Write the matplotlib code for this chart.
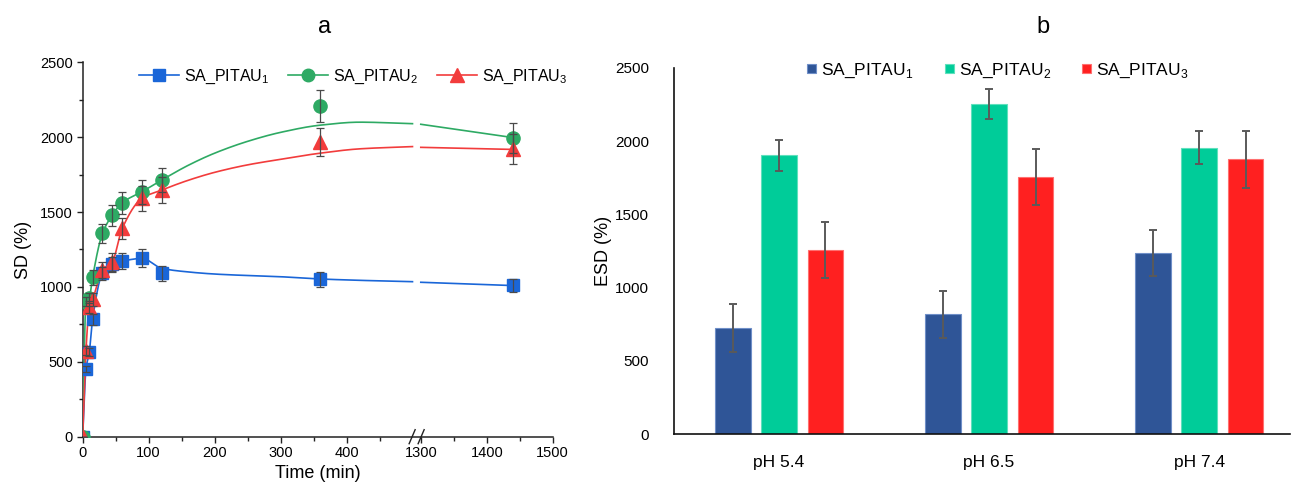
import numpy as np
import matplotlib
matplotlib.use("Agg")
import matplotlib.pyplot as plt
from matplotlib.lines import Line2D
from matplotlib.ticker import FixedLocator, FuncFormatter

plt.rcParams['font.family'] = ['Liberation Sans', 'DejaVu Sans']
plt.rcParams['mathtext.fontset'] = 'custom'
plt.rcParams['mathtext.rm'] = 'Liberation Sans'

# ---------------- data: panel a ----------------
time = [0, 5, 10, 15, 30, 45, 60, 90, 120, 360, 1440]
sd_1 = [0, 452, 565, 784, 1091, 1150, 1172, 1190, 1091, 1051, 1010]
sd_1_err = [0, 20, 25, 35, 45, 50, 55, 60, 50, 50, 45]
sd_2 = [0, 900, 925, 1065, 1358, 1480, 1562, 1636, 1716, 2207, 1995]
sd_2_err = [0, 30, 35, 50, 65, 70, 75, 80, 80, 108, 100]
sd_3 = [0, 575, 868, 917, 1113, 1169, 1391, 1592, 1647, 1968, 1922]
sd_3_err = [0, 30, 40, 45, 55, 60, 70, 85, 85, 95, 100]

# fitted curves (before / after the axis break)
fit_t_a = [0, 5, 10, 15, 30, 45, 60, 90, 120, 160, 200, 250, 300, 360, 420, 500]
fit_t_b = [1300, 1440]
fit_1_a = [0, 452, 565, 784, 1091, 1150, 1172, 1190, 1124, 1100, 1086, 1076, 1068, 1053, 1044, 1035]
fit_1_b = [1031, 1009]
fit_2_a = [0, 900, 925, 1065, 1358, 1480, 1562, 1636, 1714, 1812, 1893, 1972, 2032, 2080, 2100, 2090]
fit_2_b = [2086, 1997]
fit_3_a = [0, 575, 868, 917, 1113, 1169, 1391, 1592, 1647, 1712, 1765, 1815, 1852, 1893, 1922, 1937]
fit_3_b = [1932, 1918]

# ---------------- data: panel b ----------------
ph_labels = ['pH 5.4', 'pH 6.5', 'pH 7.4']
esd_1 = [727, 818, 1238]
esd_1_err = [163, 161, 155]
esd_2 = [1904, 2252, 1954]
esd_2_err = [105, 104, 114]
esd_3 = [1254, 1756, 1875]
esd_3_err = [191, 189, 193]

series_names = [r'SA_PITAU$_\mathregular{1}$', r'SA_PITAU$_\mathregular{2}$', r'SA_PITAU$_\mathregular{3}$']
line_colors = ['#1a66d8', '#2eaa64', '#f23c3c']
bar_colors = ['#2f5597', '#00cc99', '#ff2020']
bar_edges = ['#6f8fc8', '#5fe0bd', '#ff7070']
markers = ['s', 'o', '^']
msizes = [8.5, 9.5, 10]

# broken x axis
BRK_LO, BRK_HI, GAP = 500.0, 1300.0, 12.6


def fwd(x):
    x = np.asarray(x, float)
    return np.where(x <= BRK_LO, x,
                    np.where(x >= BRK_HI, x - (BRK_HI - BRK_LO) + GAP,
                             BRK_LO + (x - BRK_LO) * GAP / (BRK_HI - BRK_LO)))


def inv(y):
    y = np.asarray(y, float)
    return np.where(y <= BRK_LO, y,
                    np.where(y >= BRK_LO + GAP, y + (BRK_HI - BRK_LO) - GAP,
                             BRK_LO + (y - BRK_LO) * (BRK_HI - BRK_LO) / GAP))


def pchip(x, y, xn):
    x = np.asarray(x, float)
    y = np.asarray(y, float)
    h = np.diff(x)
    d = np.diff(y) / h
    n = len(x)
    m = np.zeros(n)
    m[0], m[-1] = d[0], d[-1]
    for k in range(1, n - 1):
        if d[k - 1] * d[k] > 0:
            w1 = 2 * h[k] + h[k - 1]
            w2 = h[k] + 2 * h[k - 1]
            m[k] = (w1 + w2) / (w1 / d[k - 1] + w2 / d[k])
    idx = np.clip(np.searchsorted(x, xn) - 1, 0, n - 2)
    t = (xn - x[idx]) / h[idx]
    h00 = 2 * t**3 - 3 * t**2 + 1
    h10 = t**3 - 2 * t**2 + t
    h01 = -2 * t**3 + 3 * t**2
    h11 = t**3 - t**2
    return h00 * y[idx] + h10 * h[idx] * m[idx] + h01 * y[idx + 1] + h11 * h[idx] * m[idx + 1]


fig = plt.figure(figsize=(12.92, 4.95), dpi=100)

# ================= panel a =================
ax = fig.add_axes([0.064, 0.1178, 0.3638, 0.7564])
ax.set_xscale('function', functions=(fwd, inv))
ax.set_xlim(0, 1500)
ax.set_ylim(0, 2500)

sd_vals = [sd_1, sd_2, sd_3]
sd_errs = [sd_1_err, sd_2_err, sd_3_err]
fits_a = [fit_1_a, fit_2_a, fit_3_a]
fits_b = [fit_1_b, fit_2_b, fit_3_b]

handles = []
for i in range(3):
    xa = np.linspace(fit_t_a[0], fit_t_a[-1], 800)
    ax.plot(xa, pchip(fit_t_a, fits_a[i], xa), color=line_colors[i], lw=1.2, zorder=2 + i)
    xb = np.linspace(fit_t_b[0], fit_t_b[-1], 100)
    ax.plot(xb, pchip(fit_t_b, fits_b[i], xb), color=line_colors[i], lw=1.2, zorder=2 + i)
    ax.plot(time, sd_vals[i], linestyle='none', marker=markers[i], ms=msizes[i],
            color=line_colors[i], mec=line_colors[i], zorder=5 + i)
    ax.errorbar(time, sd_vals[i], yerr=sd_errs[i], fmt='none', ecolor='#4a4a4a',
                elinewidth=0.9, capsize=3, capthick=0.9, zorder=9)
    handles.append(Line2D([], [], color=line_colors[i], lw=1.2, marker=markers[i],
                          ms=msizes[i] - 0.5, label=series_names[i]))

ax.xaxis.set_major_locator(FixedLocator([0, 100, 200, 300, 400, 1300, 1400, 1500]))
ax.xaxis.set_minor_locator(FixedLocator([50, 150, 250, 350, 450, 1350, 1450]))
ax.xaxis.set_major_formatter(FuncFormatter(lambda v, p: f"{v:.0f}"))
ax.yaxis.set_major_locator(FixedLocator([0, 500, 1000, 1500, 2000, 2500]))
ax.yaxis.set_minor_locator(FixedLocator([250, 750, 1250, 1750, 2250]))
for s in ['top', 'right']:
    ax.spines[s].set_visible(False)
for s in ['left', 'bottom']:
    ax.spines[s].set_linewidth(1.1)
    ax.spines[s].set_color('#222222')
ax.tick_params(which='major', direction='out', length=4.5, width=1.0, labelsize=10.5,
               color='#222222', pad=2.5)
ax.tick_params(which='minor', direction='out', length=3, width=1.0, color='#222222')
ax.set_xlabel('Time (min)', fontsize=13, labelpad=3)
ax.set_ylabel('SD (%)', fontsize=13, labelpad=6)

# axis break marks
xbrk = (fwd(900) - fwd(0)) / (fwd(1500) - fwd(0))
dxp, sw, sh = 4.5 / 470, 3.0 / 470, 7.0 / 374.4
for off in (-dxp, dxp):
    ax.add_line(Line2D([xbrk + off - sw, xbrk + off + sw], [-sh, sh], transform=ax.transAxes,
                       color='#222222', lw=1.0, clip_on=False, zorder=20))

ax.legend(handles=handles, ncol=3, loc='center', bbox_to_anchor=(0.575, 0.961), frameon=False,
          fontsize=11.5, handlelength=2.5, handletextpad=0.3, columnspacing=1.2,
          borderaxespad=0)

fig.text(0.2515, 0.945, 'a', fontsize=17, ha='center', va='center')

# ================= panel b =================
bx = fig.add_axes([0.5217, 0.1226, 0.4768, 0.7406])
xpos = np.arange(len(ph_labels))
width = 0.171
step = 0.221
esd_vals = [esd_1, esd_2, esd_3]
esd_errs = [esd_1_err, esd_2_err, esd_3_err]
for i in range(3):
    bx.bar(xpos + (i - 1) * step, esd_vals[i], width=width, color=bar_colors[i],
           edgecolor=bar_edges[i], linewidth=0.8, label=series_names[i], zorder=2)
    bx.errorbar(xpos + (i - 1) * step, esd_vals[i], yerr=esd_errs[i], fmt='none',
                ecolor='#5a5a5a', elinewidth=1.4, capsize=3, capthick=1.4, zorder=3)

bx.set_xlim(-0.5, 2.433)
bx.set_ylim(0, 2500)
bx.set_xticks(xpos)
bx.set_xticklabels(ph_labels)
bx.set_yticks([0, 500, 1000, 1500, 2000, 2500])
for s in ['top', 'right']:
    bx.spines[s].set_visible(False)
for s in ['left', 'bottom']:
    bx.spines[s].set_linewidth(1.2)
    bx.spines[s].set_color('#111111')
bx.tick_params(axis='y', length=0, pad=18, labelsize=11)
bx.tick_params(axis='x', length=0, pad=15, labelsize=12.5)
bx.set_ylabel('ESD (%)', fontsize=13, labelpad=2)

bx.legend(ncol=3, loc='center', bbox_to_anchor=(0.526, 0.992), frameon=False,
          fontsize=12.5, handlelength=0.5, handleheight=0.5, handletextpad=0.3,
          columnspacing=1.8, borderaxespad=0)

fig.text(0.8073, 0.945, 'b', fontsize=17, ha='center', va='center')

fig.savefig('out.png', dpi=100)
